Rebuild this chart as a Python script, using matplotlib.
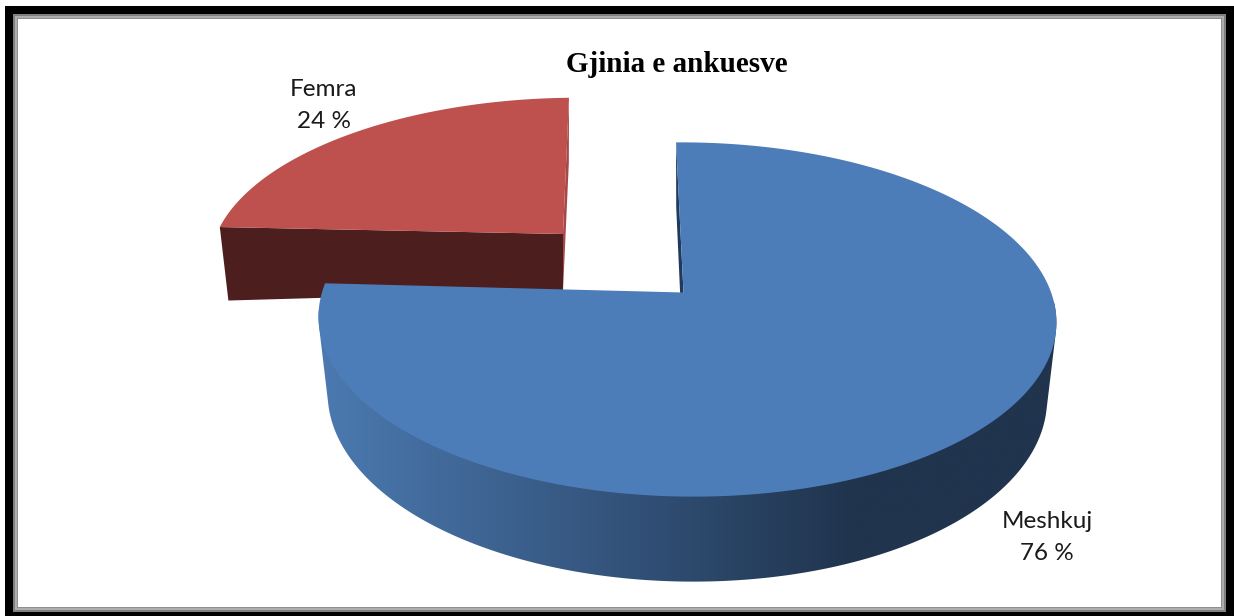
import numpy as np
import matplotlib
matplotlib.use('Agg')
import matplotlib.pyplot as plt
from matplotlib.patches import Polygon, Rectangle
from matplotlib.colors import LinearSegmentedColormap

# Data
labels = ['Meshkuj', 'Femra']
values = [76, 24]
title = 'Gjinia e ankuesve'

# Fake 3D view: slices live on a unit circle, projected to pixels
K = 0.1525
M = -0.007
SHRINK = 0.975
BLUE = dict(ax=683.5, ay=292.5, R=364.5, B=173, a=-8.6, d=1.5, d0=75, du=0, dv=-10)
RED = dict(ax=563, ay=234, R=350, B=157, a=6.9, d=2.8, d0=57, du=-16, dv=8)


def top(t, p):
    u, v = np.sin(t), np.cos(t)
    w = 1 + K * v + M * u
    x = p['ax'] + (p['R'] * u + p['a'] * v) / w
    y = p['ay'] - (p['B'] * v + p['d'] * u) / w
    return x, y


def low(t, p):
    u, v = np.sin(t), np.cos(t)
    x, y = top(t, p)
    return p['ax'] + SHRINK * (x - p['ax']), y + p['d0'] + p['du'] * u + p['dv'] * v


def apex_low(p):
    return p['ax'], p['ay'] + p['d0']


def face(t, p):
    x, y = top(t, p)
    return np.r_[p['ax'], x], np.r_[p['ay'], y]


def hull(pts):
    # convex outline of the rim, so the side walls get straight tangents
    pts = sorted(map(tuple, pts))

    def half(seq):
        out = []
        for q in seq:
            while len(out) > 1 and np.cross(np.subtract(out[-1], out[-2]), np.subtract(q, out[-1])) <= 0:
                out.pop()
            out.append(q)
        return out[:-1]

    return half(pts) + half(pts[::-1])


fig = plt.figure(figsize=(12.34, 6.16), dpi=100)
ax = fig.add_axes([0, 0, 1, 1])
ax.axis('off')

# Picture frame
for x0, y0, x1, y1, col in [(5, 6, 1234, 616, '#000000'), (13, 14, 1226, 612, '#808080'),
                            (15, 16, 1224, 610, '#adadad'), (17, 18, 1222, 608, '#8f8f8f'),
                            (18, 19, 1221, 607, '#ffffff')]:
    ax.add_patch(Rectangle((x0, y0), x1 - x0, y1 - y0, fc=col, ec='none'))

split = 2 * np.pi * values[0] / sum(values)
t_blue = np.linspace(0, split, 400)
t_red = np.linspace(split, 2 * np.pi, 120)
t_rim = np.linspace(0.52 * np.pi, 1.47 * np.pi, 200)

# Femra: radial wall, cut face, top
rx, ry = top(0.0, RED)
lx, ly = low(0.0, RED)
ax0, ay0 = apex_low(RED)
ax.add_patch(Polygon([(RED['ax'], RED['ay']), (rx, ry), (lx, ly), (ax0, ay0)], fc='#a54846', ec='none'))
ex, ey = top(split, RED)
fx, fy = low(split, RED)
ax.add_patch(Polygon([(ex, ey), (RED['ax'], RED['ay']), (ax0, ay0), (fx, fy)], fc='#4c1e1d', ec='none'))
x, y = face(t_red, RED)
ax.add_patch(Polygon(np.c_[x, y], fc='#be504d', ec='none'))

# Meshkuj: radial sliver, rim with shading, top
rx, ry = top(0.0, BLUE)
lx, ly = low(0.0, BLUE)
ax0, ay0 = apex_low(BLUE)
ax.add_patch(Polygon([(BLUE['ax'], BLUE['ay']), (rx, ry), (lx, ly), (ax0, ay0)], fc='#1f3a5c', ec='none'))

shade = LinearSegmentedColormap.from_list('shade', [(0, '#4c7bb2'), (0.38, '#35567f'), (0.72, '#20344e'), (1, '#20344e')])
tx, ty = top(t_rim, BLUE)
bx, by = low(t_rim, BLUE)
rim = Polygon(hull(np.r_[np.c_[tx, ty], np.c_[bx, by]]), transform=ax.transData, fc='none', ec='none')
ax.add_patch(rim)
grad = ax.imshow(np.linspace(0, 1, 256)[None, :], extent=[310, 1060, 616, 0], cmap=shade, aspect='auto', zorder=1.5)
grad.set_clip_path(rim)

x, y = face(t_blue, BLUE)
ax.add_patch(Polygon(np.c_[x, y], fc='#4d7db8', ec='none', zorder=2))

ax.set_xlim(0, 1234)
ax.set_ylim(616, 0)

# Text
ax.text(676.5, 64, title, family='Liberation Serif', weight='bold', fontsize=21, ha='center', va='center', color='black')
ax.text(324, 90, labels[1], family='Lato', fontsize=17.5, ha='center', va='center', color='#1a1a1a')
ax.text(324, 122, f'{values[1]} %', family='Lato', fontsize=17.5, ha='center', va='center', color='#1a1a1a')
ax.text(1047, 522, labels[0], family='Lato', fontsize=17.5, ha='center', va='center', color='#1a1a1a')
ax.text(1047, 553, f'{values[0]} %', family='Lato', fontsize=17.5, ha='center', va='center', color='#1a1a1a')

fig.savefig('out.png', dpi=100)
